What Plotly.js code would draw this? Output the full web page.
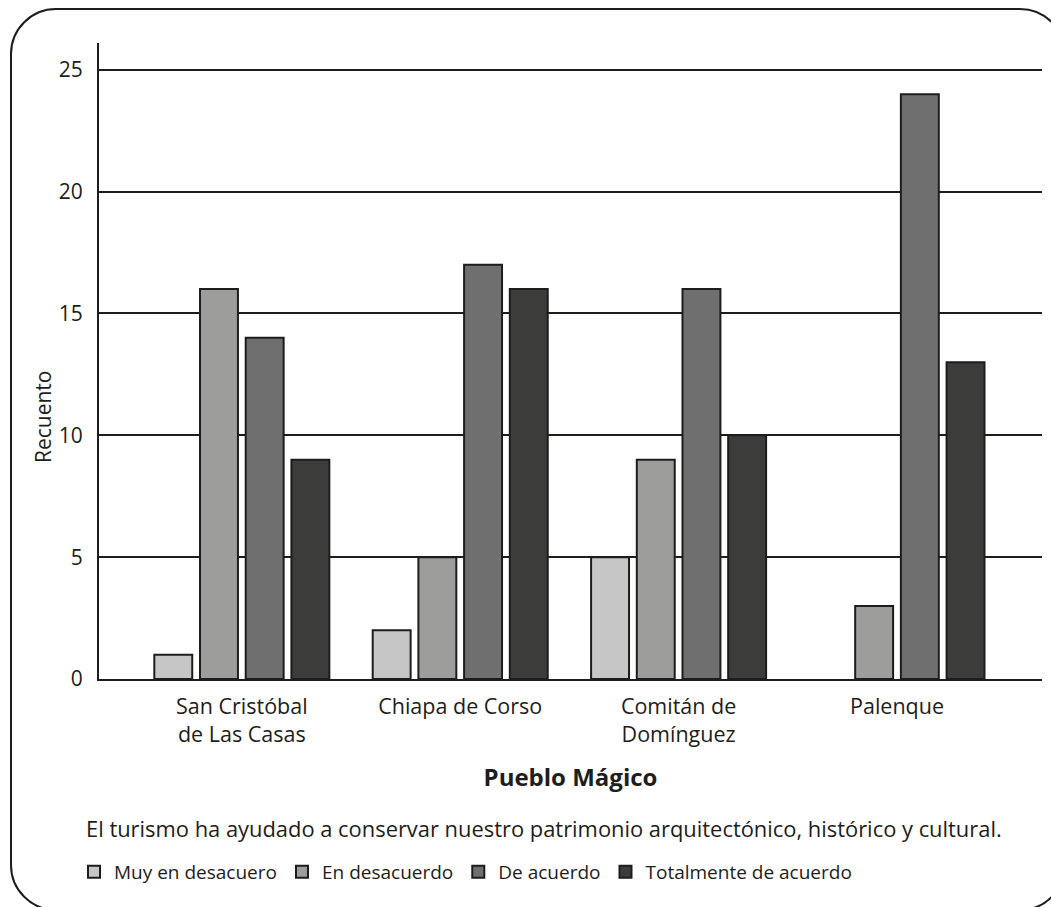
<!DOCTYPE html>
<html>
<head>
<meta charset="utf-8">
<script src="https://cdn.plot.ly/plotly-3.0.1.min.js"></script>
<style>
  html, body { margin: 0; padding: 0; background: #ffffff; }
  #chart { width: 1051px; height: 907px; }
</style>
</head>
<body>
<div id="chart"></div>
<script>
// ---- data ----
const categories = ["San Cristóbal<br>de Las Casas", "Chiapa de Corso", "Comitán de<br>Domínguez", "Palenque"];
const seriesNames = ["Muy en desacuero", "En desacuerdo", "De acuerdo", "Totalmente de acuerdo"];
const muyEnDesacuerdo = [1, 2, 5, 0];
const enDesacuerdo = [16, 5, 9, 3];
const deAcuerdo = [14, 17, 16, 24];
const totalmenteDeAcuerdo = [9, 16, 10, 13];
const yTicks = [0, 5, 10, 15, 20, 25];
const xTitle = "Pueblo Mágico";
const yTitle = "Recuento";
const caption = "El turismo ha ayudado a conservar nuestro patrimonio arquitectónico, histórico y cultural.";

// ---- styles ----
const colors = ["#c6c6c6", "#9d9d9c", "#706f6f", "#3c3c3b"];
const INK = "#1d1d1b";
const FONT = "Open Sans, Noto Sans, sans-serif";
const W = 1051, H = 907;
const M = {l: 99, r: 9, t: 43, b: 228};
const plotW = W - M.l - M.r, plotH = H - M.t - M.b;
const px = x => (x - M.l) / plotW;
const py = y => (H - M.b - y) / plotH;

const seriesValues = [muyEnDesacuerdo, enDesacuerdo, deAcuerdo, totalmenteDeAcuerdo];
const traces = seriesValues.map((vals, i) => ({
  type: "bar",
  name: seriesNames[i],
  x: categories,
  y: vals,
  marker: {color: colors[i], line: {color: INK, width: vals.map(v => v === 0 ? 0 : 2)}},
  hoverinfo: "x+y+name"
}));

// rounded frame path (paper coordinates)
function framePath(L, T, R, B, r) {
  const k = 0.5523 * r;
  const P = (x, y) => px(x).toFixed(5) + "," + py(y).toFixed(5);
  return "M" + P(L, T + r) +
    " C" + P(L, T + r - k) + " " + P(L + r - k, T) + " " + P(L + r, T) +
    " L" + P(R - r, T) +
    " C" + P(R - r + k, T) + " " + P(R, T + r - k) + " " + P(R, T + r) +
    " L" + P(R, B - r) +
    " C" + P(R, B - r + k) + " " + P(R - r + k, B) + " " + P(R - r, B) +
    " L" + P(L + r, B) +
    " C" + P(L + r - k, B) + " " + P(L, B - r + k) + " " + P(L, B - r) + " Z";
}

const layout = {
  width: W, height: H,
  margin: M,
  paper_bgcolor: "#ffffff",
  plot_bgcolor: "#ffffff",
  font: {family: FONT, color: INK, size: 20},
  barmode: "group",
  bargap: 0.163,
  bargroupgap: 0.17,
  showlegend: true,
  xaxis: {
    type: "category",
    range: [-0.654, 3.664],
    showgrid: false,
    showline: true, linecolor: INK, linewidth: 2,
    ticks: "", ticklabelstandoff: 7,
    tickfont: {size: 21.5, color: INK},
    title: {text: "<b>" + xTitle + "</b>", font: {size: 24, color: INK}, standoff: 22},
    zeroline: false, fixedrange: true
  },
  yaxis: {
    range: [0, 26.1],
    tickvals: yTicks,
    showgrid: true, gridcolor: INK, gridwidth: 1.6,
    showline: true, linecolor: INK, linewidth: 2,
    ticks: "", ticklabelstandoff: 10,
    tickfont: {size: 21, color: INK},
    zeroline: false, fixedrange: true
  },
  legend: {
    orientation: "h",
    x: px(74), xanchor: "left",
    y: py(853), yanchor: "top",
    font: {size: 19, color: INK},
    traceorder: "normal",
    bgcolor: "rgba(0,0,0,0)"
  },
  annotations: [
    {
      text: yTitle, textangle: -90,
      xref: "paper", yref: "paper",
      x: px(43), y: py(417), xanchor: "center", yanchor: "middle",
      showarrow: false, font: {size: 21, color: INK}
    },
    {
      text: caption,
      xref: "paper", yref: "paper",
      x: px(84), y: py(828), xanchor: "left", yanchor: "middle",
      showarrow: false, font: {size: 21.9, color: INK}
    }
  ],
  shapes: [{
    type: "path", xref: "paper", yref: "paper",
    path: framePath(11, 9, 1065, 910, 45),
    line: {color: INK, width: 2},
    fillcolor: "rgba(0,0,0,0)",
    layer: "below"
  }]
};

Plotly.newPlot("chart", traces, layout, {displayModeBar: false, responsive: false});
</script>
</body>
</html>
